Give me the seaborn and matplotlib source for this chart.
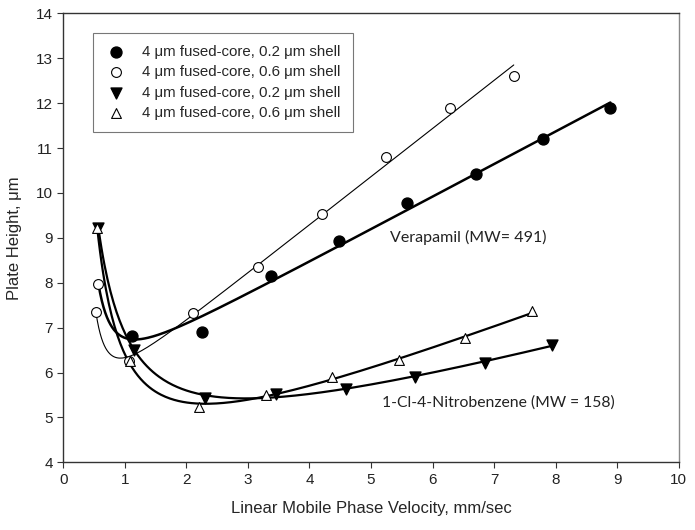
import numpy as np
import pandas as pd
import matplotlib
matplotlib.use("Agg")
import matplotlib.pyplot as plt
import seaborn as sns

sns.set_style("ticks")
plt.rcParams["font.family"] = ["Liberation Sans", "DejaVu Sans"]

# ==========================
# DATA
# ==========================

# Verapamil, 0.2 um shell (first point is drawn open in the original)
vera_02_u = [0.57, 1.12, 2.25, 3.37, 4.48, 5.59, 6.71, 7.79, 8.89]
vera_02_h = [7.97, 6.81, 6.91, 8.16, 8.94, 9.78, 10.41, 11.21, 11.90]

# Verapamil, 0.6 um shell
vera_06_u = [0.53, 1.06, 2.11, 3.17, 4.21, 5.25, 6.29, 7.32]
vera_06_h = [7.35, 6.25, 7.32, 8.35, 9.54, 10.81, 11.90, 12.60]

# 1-Cl-4-Nitrobenzene, 0.2 um shell
nitro_02_u = [0.57, 1.15, 2.30, 3.45, 4.59, 5.71, 6.85, 7.94]
nitro_02_h = [9.22, 6.51, 5.44, 5.53, 5.64, 5.89, 6.22, 6.62]

# 1-Cl-4-Nitrobenzene, 0.6 um shell
nitro_06_u = [0.55, 1.08, 2.20, 3.30, 4.37, 5.45, 6.52, 7.61]
nitro_06_h = [9.22, 6.25, 5.24, 5.49, 5.90, 6.27, 6.76, 7.36]

label_02 = "4 \u03bcm fused-core, 0.2 \u03bcm shell"
label_06 = "4 \u03bcm fused-core, 0.6 \u03bcm shell"


# plate height curve  H = A + C*u + B/u^p  (best p picked by least squares)
def fit_curve(u, h):
    u = np.asarray(u, dtype=float)
    h = np.asarray(h, dtype=float)
    best = None
    for p in np.arange(1.0, 3.01, 0.25):
        X = np.column_stack([np.ones_like(u), u, u ** -p])
        coef = np.linalg.lstsq(X, h, rcond=None)[0]
        err = np.sum((X @ coef - h) ** 2)
        if best is None or err < best[0]:
            best = (err, p, coef)
    _, p, (a, c, b) = best
    uu = np.linspace(u.min(), u.max(), 300)
    return pd.DataFrame({"u": uu, "h": a + c * uu + b * uu ** -p})


# ==========================
# PLOT
# ==========================

fig, ax = plt.subplots(figsize=(6.95, 5.3), dpi=100)
fig.subplots_adjust(left=0.0911, right=0.9765, bottom=0.1277, top=0.9749)

curves = [
    (vera_02_u, vera_02_h, 1.8),
    (vera_06_u, vera_06_h, 0.8),
    (nitro_02_u, nitro_02_h, 1.6),
    (nitro_06_u, nitro_06_h, 1.6),
]
for u, h, lw in curves:
    fit = fit_curve(u, h)
    sns.lineplot(data=fit, x="u", y="h", ax=ax, color="black",
                 linewidth=lw, sort=False, estimator=None)

# markers
h1 = ax.scatter(vera_02_u[1:], vera_02_h[1:], s=62, marker="o",
                color="black", zorder=5, label=label_02)
ax.scatter(vera_02_u[:1], vera_02_h[:1], s=50, marker="o",
           facecolor="white", edgecolor="black", linewidth=0.8, zorder=5)
h2 = ax.scatter(vera_06_u, vera_06_h, s=50, marker="o", facecolor="white",
                edgecolor="black", linewidth=0.8, zorder=5, label=label_06)
h3 = ax.scatter(nitro_02_u, nitro_02_h, s=62, marker="v", color="black",
                zorder=5, label=label_02)
h4 = ax.scatter(nitro_06_u, nitro_06_h, s=50, marker="^", facecolor="white",
                edgecolor="black", linewidth=0.8, zorder=5, label=label_06)

ax.text(5.31, 9.0, "Verapamil (MW= 491)", family=["Lato", "DejaVu Sans"],
        fontsize=11.5, va="center", ha="left", color="#222222")
ax.text(5.18, 5.33, "1-Cl-4-Nitrobenzene (MW = 158)",
        family=["Lato", "DejaVu Sans"], fontsize=11.3, va="center",
        ha="left", color="#222222")

ax.set_xlim(0, 10)
ax.set_ylim(4, 14)
ax.set_xticks(range(0, 11))
ax.set_yticks(range(4, 15))
ax.set_xlabel("Linear Mobile Phase Velocity, mm/sec", fontsize=12,
              labelpad=10)
ax.set_ylabel("Plate Height, \u03bcm", fontsize=12, labelpad=10)
ax.tick_params(direction="out", length=4, width=0.8, colors="#333333",
               labelsize=11, labelcolor="#222222")

for side in ["left", "bottom", "top"]:
    ax.spines[side].set_color("#333333")
    ax.spines[side].set_linewidth(1.0)
ax.spines["right"].set_color("#888888")
ax.spines["right"].set_linewidth(1.0)

leg = ax.legend(handles=[h1, h2, h3, h4], loc="upper left",
                bbox_to_anchor=(93 / 695, 1 - 33 / 530),
                bbox_transform=fig.transFigure, borderaxespad=0,
                fontsize=10.8, frameon=True, fancybox=False,
                labelspacing=0.42, handletextpad=1.0, borderpad=0.8,
                handlelength=1.5)
leg.get_frame().set_edgecolor("#555555")
leg.get_frame().set_linewidth(0.8)

fig.savefig("out.png", dpi=100)
